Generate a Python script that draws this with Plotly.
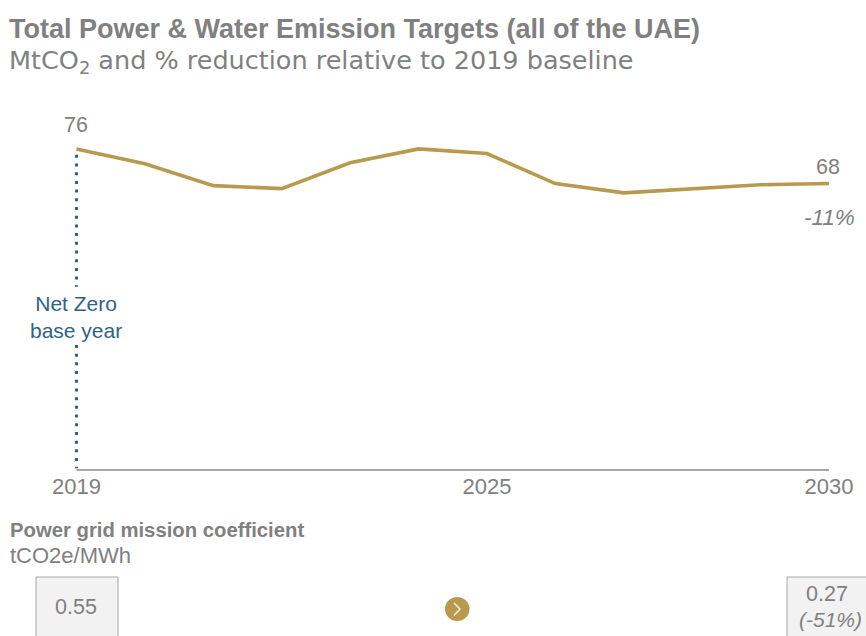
import plotly.graph_objects as go

W, H = 866, 636
years = [2019, 2020, 2021, 2022, 2023, 2024, 2025, 2026, 2027, 2028, 2029, 2030]
emissions = [76, 72.5, 67.3, 66.6, 72.7, 76, 74.9, 67.8, 65.6, 66.5, 67.5, 67.8]
base_year = [2019, 2019, None, 2019, 2019]
base_vals = [74.6, 43.4, None, 29.6, 0.4]
axis_years = [2019, 2030]
axis_vals = [0, 0]
tick_years = [2019, 2025, 2030]
GOLD, BLUE, GREY = "#b89a4e", "#2f6288", "#808080"
FONT = "Liberation Sans"
YEAR_PX = (829 - 76.5) / 11
UNIT_PX = (470 - 132) / 80

def px(x): return x / W
def py(y): return 1 - y / H

fig = go.Figure()
fig.add_trace(go.Scatter(x=axis_years, y=axis_vals, mode="lines", hoverinfo="skip",
                         line=dict(color="#a6a6a6", width=2)))
fig.add_trace(go.Scatter(x=base_year, y=base_vals, mode="lines", hoverinfo="skip",
                         line=dict(color=BLUE, width=3, dash="3px,5.7px")))
fig.add_trace(go.Scatter(x=years, y=emissions, mode="lines", line=dict(color=GOLD, width=3.6)))

def note(x, y, text, size, color=GREY, anchor="left", family=FONT):
    fig.add_annotation(xref="paper", yref="paper", x=px(x), y=py(y), text=text, showarrow=False,
                       xanchor=anchor, yanchor="middle", align="center" if anchor == "center" else "left",
                       font=dict(family=family, size=size, color=color), borderpad=0, borderwidth=0)

note(9, 29, "<b>Total Power &amp; Water Emission Targets (all of the UAE)</b>", 27)
note(9, 61, "MtCO<sub>2</sub> and % reduction relative to 2019 baseline", 25.5, family="DejaVu Sans")
note(76, 125, "76", 21.5, anchor="center")
note(828, 167, "68", 21.5, anchor="center")
note(829, 217, "<i>-11%</i>", 22.5, anchor="center")
note(76, 317, "Net Zero<br>base year", 21, BLUE, anchor="center")
note(10, 530, "<b>Power grid mission coefficient</b>", 20.3)
note(10, 555, "tCO2e/MWh", 22)
note(76, 607, "0.55", 21.5, anchor="center")
note(827, 594, "0.27", 21.5, anchor="center")
note(830, 619, "<i>(-51%)</i>", 21, anchor="center")

shapes = []
for x0, x1 in [(36, 118), (787, 870)]:
    shapes.append(dict(type="rect", xref="paper", yref="paper", x0=px(x0), x1=px(x1), y0=py(577), y1=py(640),
                       line=dict(color="#a6a6a6", width=1), fillcolor="#f2f2f2", layer="below"))
shapes.append(dict(type="circle", xref="paper", yref="paper", x0=px(445), x1=px(469.5), y0=py(621), y1=py(597),
                   line=dict(width=0), fillcolor=GOLD))
shapes.append(dict(type="path", xref="paper", yref="paper",
                   path=f"M {px(454)} {py(603)} L {px(460)} {py(609)} L {px(454)} {py(615.5)}",
                   line=dict(color="#f3ecd9", width=1.5)))
fig.update_layout(shapes=shapes)

x_pad = 0.5   # years of room left of 2019, so the dotted line is not clipped
y_pad = 0.3   # units of room below zero, so the baseline is not clipped
fig.update_layout(
    width=W, height=H, showlegend=False, paper_bgcolor="white", plot_bgcolor="white",
    margin=dict(l=0, r=0, t=0, b=0, autoexpand=False),
    xaxis=dict(domain=[px(76.5 - x_pad * YEAR_PX), px(829)], range=[2019 - x_pad, 2030], tickvals=tick_years,
               showgrid=False, zeroline=False, showline=False, ticks="", ticklen=0, automargin=False,
               tickfont=dict(family=FONT, size=22, color=GREY)),
    yaxis=dict(domain=[py(470 + y_pad * UNIT_PX), py(132)], range=[-y_pad, 80], visible=False),
)
fig.write_html("out.html", config={"displayModeBar": False}, post_script="document.body.style.margin='0';")
